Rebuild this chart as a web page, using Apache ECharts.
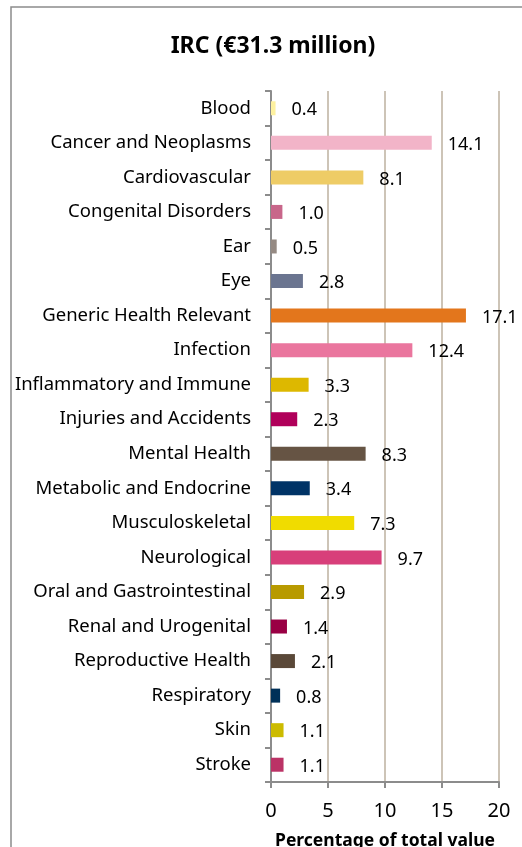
<!DOCTYPE html>
<html>
<head>
<meta charset="utf-8">
<script src="https://cdn.jsdelivr.net/npm/echarts@6/dist/echarts.min.js"></script>
<style>
  html, body { margin: 0; padding: 0; background: #fff; }
  #chart { width: 522px; height: 847px; }
</style>
</head>
<body>
<div id="chart"></div>
<script>
var categories = ['Blood', 'Cancer and Neoplasms', 'Cardiovascular', 'Congenital Disorders', 'Ear', 'Eye',
  'Generic Health Relevant', 'Infection', 'Inflammatory and Immune', 'Injuries and Accidents', 'Mental Health',
  'Metabolic and Endocrine', 'Musculoskeletal', 'Neurological', 'Oral and Gastrointestinal', 'Renal and Urogenital',
  'Reproductive Health', 'Respiratory', 'Skin', 'Stroke'];
var values = [0.4, 14.1, 8.1, 1.0, 0.5, 2.8, 17.1, 12.4, 3.3, 2.3, 8.3, 3.4, 7.3, 9.7, 2.9, 1.4, 2.1, 0.8, 1.1, 1.1];
var barColors = ['#fdf1a0', '#f2b4c8', '#eecc66', '#c8668a', '#958a83', '#6b7590', '#e3761c', '#ea769e',
  '#ddb800', '#b0005a', '#665444', '#003366', '#f0dc00', '#d83f7a', '#b89a00', '#990044', '#5a4838',
  '#003058', '#ccbb00', '#bb3366'];
var xTicks = [0, 5, 10, 15, 20];

var font = 'Noto Sans, Liberation Sans, sans-serif';
var chart = echarts.init(document.getElementById('chart'));

var option = {
  animation: false,
  title: {
    text: 'IRC (€31.3 million)',
    left: 268,
    top: 30,
    textAlign: 'center',
    textStyle: { fontFamily: font, fontSize: 23, fontWeight: 'bold', color: '#000' }
  },
  graphic: [{
    type: 'rect',
    shape: { x: 11, y: 7, width: 600, height: 900 },
    style: { fill: 'none', stroke: '#8c8c8c', lineWidth: 1.5 },
    silent: true
  }],
  grid: { left: 271, right: 23, top: 91, bottom: 65, containLabel: false, outerBoundsMode: 'none' },
  xAxis: {
    type: 'value',
    min: xTicks[0],
    max: xTicks[xTicks.length - 1],
    interval: 5,
    name: 'Percentage of total value',
    nameLocation: 'middle',
    nameGap: 50,
    nameTextStyle: { fontFamily: font, fontSize: 17.5, fontWeight: 'bold', color: '#000' },
    axisLine: { show: true, lineStyle: { color: '#8c8c8c', width: 2 } },
    axisTick: { show: true, length: 6, lineStyle: { color: '#8c8c8c', width: 2 } },
    axisLabel: { fontFamily: font, fontSize: 20, color: '#000', margin: 19 },
    splitLine: { show: true, lineStyle: { color: '#cdc4b7', width: 2 } }
  },
  yAxis: {
    type: 'category',
    data: categories,
    inverse: true,
    axisLine: { show: true, lineStyle: { color: '#8c8c8c', width: 2 } },
    axisTick: { show: true, length: 6, lineStyle: { color: '#8c8c8c', width: 2 } },
    axisLabel: { fontFamily: font, fontSize: 18.5, color: '#000', margin: 20 }
  },
  series: [{
    type: 'bar',
    data: values.map(function (v, i) {
      return { value: v, itemStyle: { color: barColors[i] } };
    }),
    barWidth: 14,
    label: {
      show: true,
      position: 'right',
      distance: 16,
      offset: [0, 2],
      formatter: function (p) { return p.value.toFixed(1); },
      fontFamily: font,
      fontSize: 18,
      color: '#000'
    }
  }]
};
chart.setOption(option);
</script>
</body>
</html>
